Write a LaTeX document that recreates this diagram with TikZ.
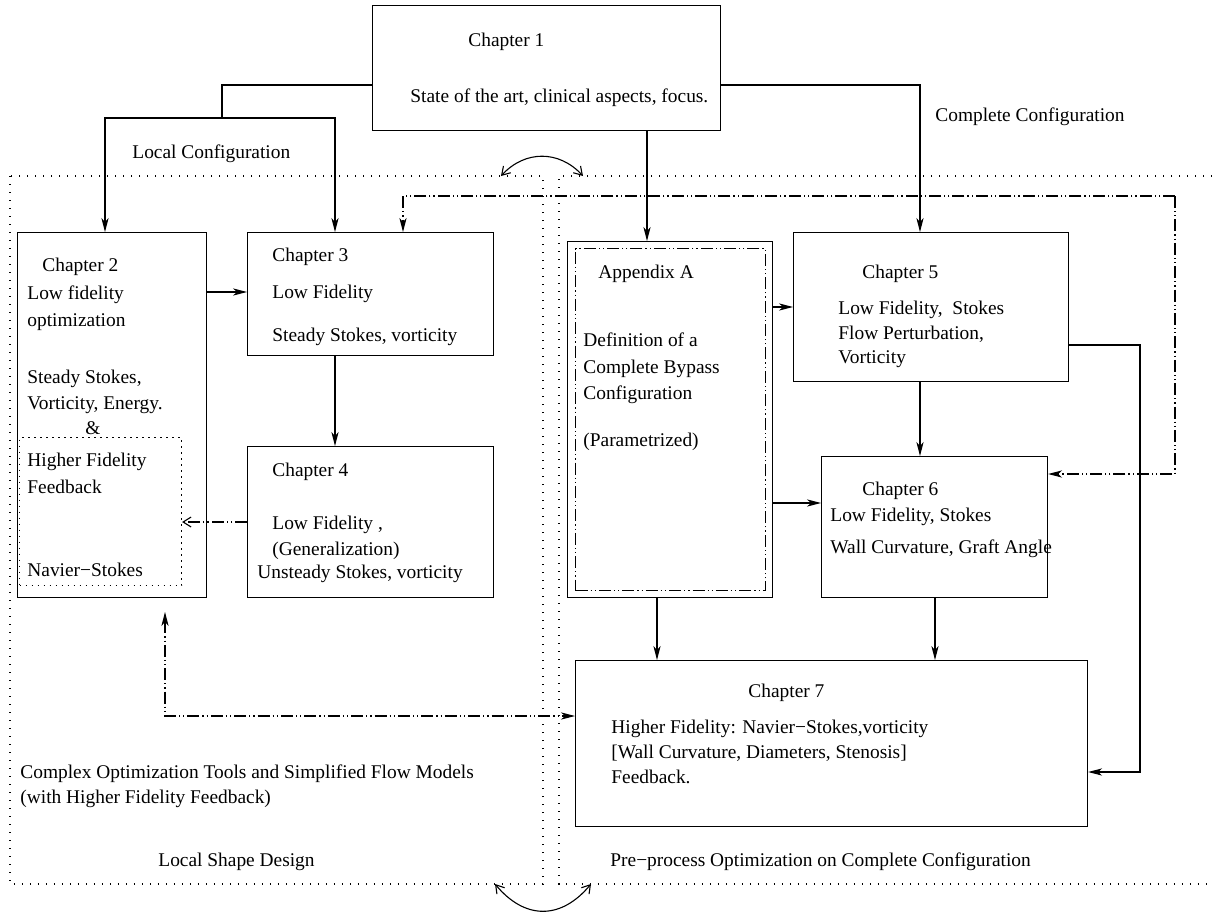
\documentclass[tikz,border=0pt]{standalone}
\usepackage{fontspec}
\setmainfont{Liberation Serif}
\usetikzlibrary{arrows.meta}
\begin{document}
\begin{tikzpicture}[x=0.5pt,y=-0.5pt,
  every node/.style={font=\fontsize{9.7}{12}\selectfont},
  box/.style={draw, line width=0.55pt, inner sep=0pt, anchor=north west},
  lbl/.style={anchor=base west, inner sep=0pt},
  conn/.style={line width=0.55pt},
  arr/.style={conn, -{Stealth[length=7pt,width=3.6pt,inset=2pt]}},
  openarr/.style={conn, -{Straight Barb[length=4pt,width=5pt]}},
  dd/.style={dash pattern=on 6pt off 1.5pt on 0.6pt off 1.5pt on 0.6pt off 1.5pt},
  ddinner/.style={draw, line width=0.55pt, inner sep=0pt, anchor=north west,
    dash pattern=on 6pt off 1.5pt on 0.6pt off 1.5pt on 0.6pt off 1.5pt},
  region/.style={line width=0.6pt, dash pattern=on 0.7pt off 3.3pt},
  regionbox/.style={draw, line width=0.55pt, inner sep=0pt, anchor=north west,
    dash pattern=on 0.7pt off 2.3pt}]
\useasboundingbox (0,0) rectangle (1212,916);

% dotted regions
\draw[region] (10,176) rectangle (543,884);
\draw[region] (1212,176) -- (559,176) -- (559,884) -- (1212,884);
\coordinate (ta) at (501,176);
\coordinate (tb) at (583,176);
\coordinate (ba) at (495,884);
\coordinate (bb) at (591,884);
\draw[conn, {Straight Barb[length=4pt,width=5pt]}-{Straight Barb[length=4pt,width=5pt]}]
  (ta) .. controls (525,150) and (559,150) .. (tb);
\draw[conn, {Straight Barb[length=4pt,width=5pt]}-{Straight Barb[length=4pt,width=5pt]}]
  (ba) .. controls (525,920) and (561,920) .. (bb);

% boxes
\node[box, minimum width=174pt, minimum height=62.5pt] (c1) at (372,5) {};
\node[box, minimum width=94.5pt, minimum height=182.5pt] (c2) at (17,232) {};
\node[regionbox, minimum width=81pt, minimum height=74pt] (fb) at (19,437) {};
\node[box, minimum width=123pt, minimum height=61.5pt] (c3) at (247,232) {};
\node[box, minimum width=123pt, minimum height=75.5pt] (c4) at (247,446) {};
\node[box, minimum width=102.5pt, minimum height=178pt] (ap) at (567,241) {};
\node[ddinner, minimum width=95pt, minimum height=171pt] (api) at (575,248) {};
\node[box, minimum width=137.5pt, minimum height=74.5pt] (c5) at (793,232) {};
\node[box, minimum width=113pt, minimum height=70.5pt] (c6) at (821,456) {};
\node[box, minimum width=256pt, minimum height=83pt] (c7) at (575,660) {};

% texts
\node[lbl] (t1a) at (468,46) {Chapter 1};
\node[lbl] (t1b) at (410,102) {State of the art, clinical aspects, focus.};
\node[lbl] (tcc) at (935,121) {Complete Configuration};
\node[lbl] (tlc) at (132,158) {Local Configuration};

\node[lbl] (t2a) at (42,271) {Chapter 2};
\node[lbl] (t2b) at (27,299) {Low fidelity};
\node[lbl] (t2c) at (27,326) {optimization};
\node[lbl] (t2d) at (27,383) {Steady Stokes,};
\node[lbl] (t2e) at (27,409) {Vorticity, Energy.};
\node[lbl] (t2f) at (85,434) {\&};
\node[lbl] (t2g) at (27,466) {Higher Fidelity};
\node[lbl] (t2h) at (27,493) {Feedback};
\node[lbl] (t2i) at (27,576) {Navier−Stokes};

\node[lbl] (t3a) at (272,261) {Chapter 3};
\node[lbl] (t3b) at (272,298) {Low Fidelity};
\node[lbl] (t3c) at (272,341) {Steady Stokes, vorticity};

\node[lbl] (t4a) at (272,476) {Chapter 4};
\node[lbl] (t4b) at (272,529) {Low Fidelity ,};
\node[lbl] (t4c) at (272,555) {(Generalization)};
\node[lbl] (t4d) at (257,578) {Unsteady Stokes, vorticity};

\node[lbl] (tap1) at (598,278) {Appendix A};
\node[lbl] (tap2) at (583,346) {Definition of a};
\node[lbl] (tap3) at (583,373) {Complete Bypass};
\node[lbl] (tap4) at (583,399) {Configuration};
\node[lbl] (tap5) at (583,446) {(Parametrized)};

\node[lbl] (t5a) at (862,278) {Chapter 5};
\node[lbl] (t5b) at (838,314) {Low Fidelity,\ \ Stokes};
\node[lbl] (t5c) at (838,339) {Flow Perturbation,};
\node[lbl] (t5d) at (838,363) {Vorticity};

\node[lbl] (t6a) at (862,495) {Chapter 6};
\node[lbl] (t6b) at (830,521) {Low Fidelity, Stokes};
\node[lbl] (t6c) at (830,553) {Wall Curvature, Graft Angle};

\node[lbl] (t7a) at (748,697) {Chapter 7};
\node[lbl] (t7b) at (611,733) {Higher Fidelity: Navier−Stokes,vorticity};
\node[lbl] (t7c) at (611,758) {[Wall Curvature, Diameters, Stenosis]};
\node[lbl] (t7d) at (611,783) {Feedback.};

\node[lbl] (tx1) at (20,778) {Complex Optimization Tools and Simplified Flow Models};
\node[lbl] (tx2) at (20,803) {(with Higher Fidelity Feedback)};
\node[lbl] (tls) at (158,866) {Local Shape Design};
\node[lbl] (tpp) at (610,866) {Pre−process Optimization on Complete Configuration};

% connectors from chapter 1
\coordinate (split) at (222,118);
\draw[conn] (c1.west |- 0,85) -| (split);
\draw[arr] (split) -| (c2.north -| 105,0);
\draw[arr] (split) -| (c3.north -| 335,0);
\draw[arr] (c1.east |- 0,85) -| (c5.north -| 920,0);
\draw[arr] (c1.south -| 647,0) -- (ap.north -| 647,0);

% left column
\draw[arr] (c2.east |- 0,292) -- (c3.west |- 0,292);
\draw[arr] (c3.south -| 335,0) -- (c4.north -| 335,0);
\draw[openarr, dd] (c4.west |- 0,522) -- (fb.east |- 0,522);

% right column
\draw[arr] (ap.east |- 0,307) -- (c5.west |- 0,307);
\draw[arr] (ap.east |- 0,503) -- (c6.west |- 0,503);
\draw[arr] (ap.south -| 657,0) -- (c7.north -| 657,0);
\draw[arr] (c5.south -| 920,0) -- (c6.north -| 920,0);
\draw[arr] (c6.south -| 935,0) -- (c7.north -| 935,0);
\draw[arr] (c5.east |- 0,345) -| (1140,772) -- (c7.east |- 0,772);

% feedback loops
\coordinate (fbk) at (1175,196);
\draw[arr, dd] (fbk) -| (c3.north -| 403,0);
\draw[arr, dd] (fbk) |- (c6.east |- 0,474);
\coordinate (lowfb) at (165,612);
\draw[dd, conn, {Stealth[length=7pt,width=3.6pt,inset=2pt]}-{Stealth[length=7pt,width=3.6pt,inset=2pt]}]
  (lowfb) |- (c7.west |- 0,716);
\end{tikzpicture}
\end{document}
